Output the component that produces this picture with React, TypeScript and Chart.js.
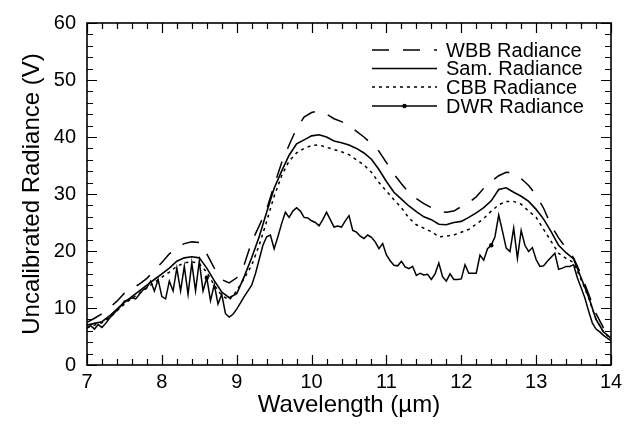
import React, { useEffect, useRef } from 'react';
import { Chart, registerables } from 'chart.js';

Chart.register(...registerables);

// Wavelength grids (µm)
const smoothWavelengths: number[] = Array.from({ length: 71 }, (_, i) => +(7 + i * 0.1).toFixed(2));
const dwrWavelengths: number[] = Array.from({ length: 141 }, (_, i) => +(7 + i * 0.05).toFixed(2));

// Series values (V)
const wbbValues = [
  7.5, 8.2, 9.0, 10.0, 11.2, 12.6, 13.4, 14.2, 15.2, 16.6,
  18.0, 19.5, 20.5, 21.3, 21.6, 21.5, 19.5, 17.0, 15.0, 14.4,
  15.3, 17.6, 21.6, 24.4, 27.3, 31.5, 35.5, 38.6, 41.5, 43.5,
  44.3, 44.6, 44.0, 43.2, 42.7, 42.0, 41.0, 40.0, 38.8, 37.5,
  35.5, 33.5, 31.8, 30.3, 29.2, 28.3, 27.6, 26.9, 26.8, 27.0,
  27.8, 28.5, 29.5, 31.0, 32.2, 33.2, 33.8, 33.7, 32.7, 31.5,
  29.8, 27.5, 24.5, 22.3, 20.5, 18.8, 15.9, 12.5, 9.0, 6.5,
  5.0,
];

const samValues = [
  7.0, 7.3, 7.6, 8.6, 9.8, 11.0, 12.0, 13.0, 14.0, 15.0,
  16.0, 17.0, 18.2, 18.8, 19.0, 18.8, 17.0, 14.8, 12.8, 11.8,
  12.5, 15.5, 18.8, 22.5, 26.8, 31.0, 34.0, 36.8, 38.8, 39.5,
  40.2, 40.4, 40.0, 39.3, 39.0, 38.6, 38.0, 37.2, 36.1, 34.3,
  32.2, 30.3, 29.1, 27.9, 26.9, 26.0, 25.5, 24.7, 24.6, 25.0,
  25.2, 25.9, 26.7, 27.6, 28.8, 30.8, 31.1, 30.3, 29.6, 28.7,
  27.3, 25.6, 23.4, 21.0, 19.7, 18.6, 15.3, 12.0, 8.0, 5.8,
  4.7,
];

const cbbValues = [
  6.5, 7.0, 7.4, 8.3, 9.5, 10.7, 11.7, 12.6, 13.5, 14.5,
  15.4, 16.3, 17.3, 17.9, 18.1, 17.8, 16.3, 14.0, 12.2, 11.4,
  13.0, 15.2, 17.5, 21.0, 25.2, 29.6, 33.2, 35.8, 37.2, 38.0,
  38.5, 38.6, 38.2, 37.8, 37.4, 36.9, 36.0, 35.1, 33.8, 32.0,
  30.5, 29.0, 27.6, 25.8, 24.6, 24.0, 23.4, 22.5, 22.6, 22.8,
  23.3, 23.8, 24.7, 25.7, 27.0, 28.1, 28.7, 28.7, 28.2, 27.0,
  25.9, 23.8, 21.7, 19.6, 18.7, 18.0, 15.0, 11.8, 8.0, 5.8,
  4.6,
];

const dwrValues = [
  6.5, 6.9, 6.3, 7.1, 6.6, 7.3, 8.2, 8.9, 9.6, 10.3, 11.2, 11.4, 11.8, 11.6, 12.4, 13.2, 13.6, 14.7, 13.0, 15.0,
  12.0, 11.6, 14.7, 13.0, 17.0, 13.0, 17.3, 12.4, 17.9, 13.0, 18.2, 13.0, 15.3, 11.3, 14.1, 10.7, 12.4, 9.0, 8.4, 8.9,
  9.8, 10.9, 12.0, 13.0, 14.0, 16.0, 18.5, 21.0, 22.5, 22.8, 20.4, 22.5, 24.8, 26.8, 25.9, 27.0, 27.6, 27.0, 25.9, 25.8,
  25.3, 25.0, 24.4, 25.5, 26.8, 25.5, 24.2, 24.4, 24.2, 25.3, 26.2, 23.6, 23.3, 22.6, 22.2, 22.8, 22.4, 21.6, 20.4, 21.3,
  19.3, 18.3, 17.5, 17.4, 18.2, 17.2, 16.9, 17.3, 15.7, 16.1, 15.8, 15.9, 15.0, 16.0, 17.9, 15.5, 14.7, 16.0, 15.0, 15.0,
  15.1, 17.6, 16.1, 16.1, 16.1, 19.3, 18.4, 20.4, 21.0, 22.5, 26.3, 23.5, 20.5, 19.9, 24.0, 18.7, 23.6, 21.0, 19.9, 20.6,
  18.5, 17.3, 17.4, 18.2, 18.9, 19.6, 16.8, 17.0, 17.3, 17.3, 17.6, 15.3, 13.6, 11.8, 9.5, 7.4, 6.3, 5.8, 5.2, 4.7,
  4.3,
];

// wavelengths where the DWR curve carries a dot marker
const dwrMarkerWavelengths = [8.6, 12.4];

const xTickLabels = ['7', '8', '9', '10', '11', '12', '13', '14'];
const yTickLabels = ['0', '10', '20', '30', '40', '50', '60'];

const seriesNames = ['WBB Radiance', 'Sam. Radiance', 'CBB Radiance', 'DWR Radiance'];

const FONT = '"Liberation Sans", Arial, Helvetica, sans-serif';

const framePlugin = {
  id: 'frameTicks',
  afterDatasetsDraw(chart: any) {
    const { ctx, chartArea } = chart;
    const { left, right, top, bottom } = chartArea;
    const xs = chart.scales.x;
    const ys = chart.scales.y;
    ctx.save();
    ctx.strokeStyle = '#000';
    ctx.lineWidth = 1.6;
    ctx.setLineDash([]);
    ctx.strokeRect(left, top, right - left, bottom - top);
    ctx.lineWidth = 1.2;
    ctx.beginPath();
    for (let i = 0; i <= 35; i++) {
      const v = 7 + i * 0.2;
      const px = Math.round(xs.getPixelForValue(v)) + 0.5;
      const len = i % 5 === 0 ? 10 : 6;
      ctx.moveTo(px, bottom);
      ctx.lineTo(px, bottom - len);
      ctx.moveTo(px, top);
      ctx.lineTo(px, top + len);
    }
    for (let i = 0; i <= 30; i++) {
      const v = i * 2;
      const py = Math.round(ys.getPixelForValue(v)) + 0.5;
      const len = i % 5 === 0 ? 10 : 6;
      ctx.moveTo(left, py);
      ctx.lineTo(left + len, py);
      ctx.moveTo(right, py);
      ctx.lineTo(right - len, py);
    }
    ctx.stroke();
    ctx.restore();
  },
};

const legendPlugin = {
  id: 'customLegend',
  afterDraw(chart: any) {
    const { ctx } = chart;
    const x0 = 372;
    const x1 = 437;
    const rowY = [50, 68.5, 87, 106];
    ctx.save();
    chart.data.datasets.forEach((ds: any, i: number) => {
      const y = rowY[i];
      ctx.strokeStyle = '#000';
      ctx.lineWidth = ds.borderWidth;
      ctx.setLineDash(ds.borderDash || []);
      ctx.beginPath();
      ctx.moveTo(x0, y);
      ctx.lineTo(x1, y);
      ctx.stroke();
      ctx.setLineDash([]);
      if (i === 3) {
        ctx.fillStyle = '#000';
        ctx.beginPath();
        ctx.arc((x0 + x1) / 2, y, 2.2, 0, Math.PI * 2);
        ctx.fill();
      }
      ctx.fillStyle = '#000';
      ctx.font = `20px ${FONT}`;
      ctx.textBaseline = 'middle';
      ctx.textAlign = 'left';
      ctx.fillText(ds.label, 446, y + 1);
    });
    ctx.restore();
  },
};

export default function App() {
  const canvasRef = useRef<HTMLCanvasElement | null>(null);

  useEffect(() => {
    const canvas = canvasRef.current;
    if (!canvas) return;
    const toPts = (xs: number[], ys: number[]) => xs.map((x, i) => ({ x, y: ys[i] }));
    const chart = new Chart(canvas, {
      type: 'line',
      data: {
        datasets: [
          {
            label: seriesNames[0],
            data: toPts(smoothWavelengths, wbbValues),
            borderColor: '#000',
            borderWidth: 1.5,
            borderDash: [17, 14],
            pointRadius: 0,
            tension: 0,
            fill: false,
          },
          {
            label: seriesNames[1],
            data: toPts(smoothWavelengths, samValues),
            borderColor: '#000',
            borderWidth: 1.6,
            pointRadius: 0,
            tension: 0,
            fill: false,
          },
          {
            label: seriesNames[2],
            data: toPts(smoothWavelengths, cbbValues),
            borderColor: '#000',
            borderWidth: 1.5,
            borderDash: [3, 4],
            pointRadius: 0,
            tension: 0,
            fill: false,
          },
          {
            label: seriesNames[3],
            data: toPts(dwrWavelengths, dwrValues),
            borderColor: '#000',
            backgroundColor: '#000',
            borderWidth: 1.5,
            pointRadius: (c: any) =>
              dwrMarkerWavelengths.some((w) => Math.abs(w - dwrWavelengths[c.dataIndex]) < 1e-6) ? 2.2 : 0,
            pointBorderWidth: 0,
            tension: 0,
            fill: false,
          },
        ],
      } as any,
      options: {
        animation: false,
        responsive: false,
        maintainAspectRatio: false,
        layout: { padding: { left: 0, right: 18, top: 17, bottom: 0 } },
        plugins: {
          legend: { display: false },
          tooltip: { enabled: false },
        },
        scales: {
          x: {
            type: 'linear',
            min: 7,
            max: 14,
            ticks: {
              stepSize: 1,
              color: '#000',
              font: { family: FONT, size: 20 },
              padding: 5,
              maxRotation: 0,
              autoSkip: false,
              callback: (v: any) => {
                const idx = Math.round(Number(v) - 7);
                return xTickLabels[idx] ?? '';
              },
            },
            grid: { display: false, drawTicks: false },
            border: { display: false },
            title: {
              display: true,
              text: 'Wavelength (µm)',
              color: '#000',
              font: { family: FONT, size: 24 },
              padding: { top: 0, bottom: 6 },
            },
            afterFit: (s: any) => {
              s.height = 61;
            },
          },
          y: {
            type: 'linear',
            min: 0,
            max: 60,
            ticks: {
              stepSize: 10,
              color: '#000',
              font: { family: FONT, size: 20 },
              padding: 11,
              callback: (v: any) => {
                const idx = Math.round(Number(v) / 10);
                return yTickLabels[idx] ?? '';
              },
            },
            grid: { display: false, drawTicks: false },
            border: { display: false },
            title: {
              display: true,
              text: 'Uncalibrated Radiance (V)',
              color: '#000',
              font: { family: FONT, size: 24 },
              padding: { top: 18, bottom: 0 },
            },
            afterFit: (s: any) => {
              s.width = 87;
            },
          },
        },
      } as any,
      plugins: [framePlugin, legendPlugin],
    });
    return () => chart.destroy();
  }, []);

  return (
    <div style={{ position: 'fixed', left: 0, top: 0, width: 629, height: 426, background: '#fff' }}>
      <canvas ref={canvasRef} width={629} height={426} style={{ display: 'block', width: 629, height: 426 }} />
    </div>
  );
}
